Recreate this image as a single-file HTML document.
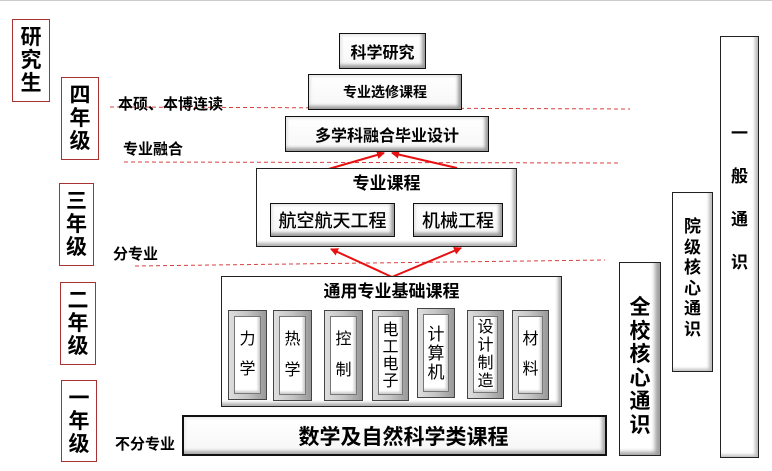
<!DOCTYPE html>
<html><head><meta charset="utf-8">
<style>
*{margin:0;padding:0;box-sizing:border-box}
html,body{width:772px;height:471px;background:#fff;overflow:hidden}
body{position:relative;font-family:"Liberation Sans","Noto Sans CJK SC",sans-serif;color:#000}
.a{position:absolute}
.lvl{position:absolute;border:1.5px solid #a83232;display:flex;align-items:center;justify-content:center;text-align:center;font-weight:bold;font-size:21px;line-height:23px}
.lab{position:absolute;font-weight:bold;font-size:15px;line-height:16px;white-space:nowrap}
.bev{position:absolute;border:1.5px solid #111;background:linear-gradient(#fff,#f6f6f6);box-shadow:inset -3px -3px 3px #9a9a9a,inset 2px 2px 2px #e8e8e8;display:flex;align-items:center;justify-content:center;font-weight:bold;white-space:nowrap}
.cont{position:absolute;border:1.5px solid #222;background:#fff;box-shadow:inset -3px -3px 3px #b0b0b0}
.crs{position:absolute;border:1px solid #444;background:linear-gradient(90deg,#dedede,#c4c4c4 50%,#999);padding:5px}
.crs .in{width:100%;height:100%;background:#fff;border:1px solid #777;box-shadow:inset -2px -2px 2px #ccc;display:flex;flex-direction:column;align-items:center;justify-content:space-around;font-size:16px;line-height:18px;padding:8px 0}
.vt{position:absolute;border:1.5px solid #222;background:#fff;text-align:center;font-weight:bold}
</style></head><body>
<div class="a" style="left:0;top:0;width:772px;height:1px;background:#ccc"></div>

<svg class="a" style="left:0;top:0" width="772" height="471">
<defs><marker id="ar" markerWidth="8" markerHeight="8" refX="7" refY="4" orient="auto" markerUnits="userSpaceOnUse"><path d="M0,0 L8,4 L0,8 z" fill="#e81010"/></marker></defs>
<g stroke="#d84040" stroke-width="1" stroke-dasharray="4,3" fill="none">
<line x1="110" y1="107" x2="630" y2="109"/>
<line x1="124" y1="162" x2="618" y2="163"/>
<line x1="135" y1="266" x2="605" y2="260"/>
</g>
<g stroke="#e81010" stroke-width="2" fill="none">
<line x1="325" y1="170" x2="384" y2="153" marker-end="url(#ar)"/>
<line x1="457" y1="168" x2="392" y2="153" marker-end="url(#ar)"/>
<line x1="392" y1="277" x2="331" y2="249" marker-end="url(#ar)"/>
<line x1="392" y1="277" x2="461" y2="248" marker-end="url(#ar)"/>
</g>
</svg>

<div class="lvl" style="left:12px;top:19px;width:38px;height:83px">研<br>究<br>生</div>
<div class="lvl" style="left:61px;top:77px;width:38px;height:83px">四<br>年<br>级</div>
<div class="lvl" style="left:59px;top:183px;width:35px;height:83px">三<br>年<br>级</div>
<div class="lvl" style="left:60px;top:282px;width:36px;height:83px">二<br>年<br>级</div>
<div class="lvl" style="left:61px;top:380px;width:36px;height:82px">一<br>年<br>级</div>

<div class="lab" style="left:118px;top:97px">本硕、本博连读</div>
<div class="lab" style="left:123px;top:142px">专业融合</div>
<div class="lab" style="left:113px;top:247px">分专业</div>
<div class="lab" style="left:115px;top:437px">不分专业</div>

<div class="bev" style="left:339px;top:33px;width:87px;height:36px;font-size:16px">科学研究</div>
<div class="bev" style="left:308px;top:74px;width:154px;height:36px;font-size:14px">专业选修课程</div>
<div class="bev" style="left:285px;top:116px;width:204px;height:36px;font-size:16px">多学科融合毕业设计</div>

<div class="cont" style="left:256px;top:168px;width:261px;height:79px"></div>
<div class="a" style="left:256px;top:174px;width:261px;text-align:center;font-weight:bold;font-size:17px;line-height:20px">专业课程</div>
<div class="bev" style="left:270px;top:203px;width:125px;height:34px;font-size:18px;font-weight:500">航空航天工程</div>
<div class="bev" style="left:413px;top:203px;width:90px;height:34px;font-size:18px;font-weight:500">机械工程</div>

<div class="cont" style="left:221px;top:276px;width:341px;height:131px"></div>
<div class="a" style="left:221px;top:282px;width:341px;text-align:center;font-weight:bold;font-size:17px;line-height:20px">通用专业基础课程</div>
<div class="crs" style="left:228px;top:310px;width:39px;height:90px"><div class="in"><span>力</span><span>学</span></div></div>
<div class="crs" style="left:273px;top:310px;width:39px;height:91px"><div class="in"><span>热</span><span>学</span></div></div>
<div class="crs" style="left:324px;top:310px;width:39px;height:91px"><div class="in"><span>控</span><span>制</span></div></div>
<div class="crs" style="left:372px;top:310px;width:37px;height:91px"><div class="in" style="justify-content:center;line-height:17px"><span>电<br>工<br>电<br>子</span></div></div>
<div class="crs" style="left:417px;top:308px;width:38px;height:90px"><div class="in" style="justify-content:center;line-height:19px;font-size:17px"><span>计<br>算<br>机</span></div></div>
<div class="crs" style="left:467px;top:310px;width:37px;height:89px"><div class="in" style="justify-content:center;line-height:18px"><span>设<br>计<br>制<br>造</span></div></div>
<div class="crs" style="left:512px;top:310px;width:37px;height:90px"><div class="in"><span>材</span><span>料</span></div></div>

<div class="bev" style="left:182px;top:415px;width:425px;height:41px;font-size:21px;border-width:2px;box-shadow:inset -3px -3px 3px #aaa,inset 2px 2px 2px #eee"><span style="margin-left:18px">数学及自然科学类课程</span></div>

<div class="vt" style="left:619px;top:262px;width:42px;height:194px;font-size:21px;line-height:23.5px;padding-top:33px;box-shadow:inset -5px -3px 4px #a0a0a0">全<br>校<br>核<br>心<br>通<br>识</div>
<div class="vt" style="left:672px;top:192px;width:41px;height:180px;font-size:17px;line-height:20.5px;padding-top:24px;box-shadow:inset -3px -2px 3px #bbb">院<br>级<br>核<br>心<br>通<br>识</div>
<div class="vt" style="left:720px;top:36px;width:39px;height:422px;font-size:17px;line-height:43px;padding-top:75px;box-shadow:inset -3px -2px 3px #bbb">一<br>般<br>通<br>识</div>
</body></html>
